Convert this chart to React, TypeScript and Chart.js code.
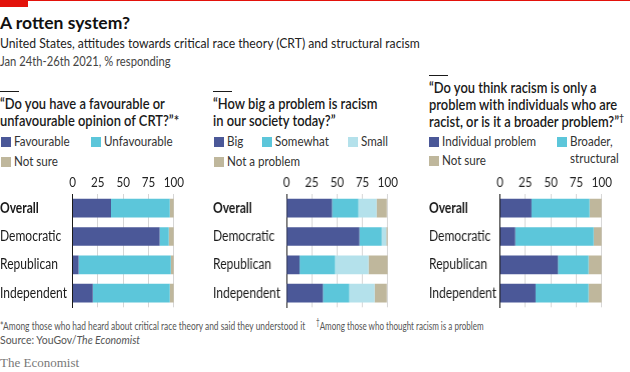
import React, { useEffect, useRef } from "react";
import { Chart, registerables } from "chart.js";
Chart.register(...registerables);

const FONT = "Lato, 'Noto Sans', sans-serif";

const groups = ["Overall", "Democratic", "Republican", "Independent"];
const xTicks = [0, 25, 50, 75, 100];

const crtFavourable = [38, 86, 6, 20];
const crtUnfavourable = [58, 9, 91, 76];
const crtNotSure = [4, 5, 3, 4];

const bigProblem = [45, 72, 13, 36];
const somewhatProblem = [26, 22, 35, 26];
const smallProblem = [18, 4.5, 33, 25];
const notAProblem = [10, 1.5, 19, 12];

const individualProblem = [31, 15, 57, 35];
const broaderStructural = [57, 77, 30, 52];
const structNotSure = [12, 8, 13, 13];

const DARK = "#4b5898";
const CYAN = "#5cc6da";
const LIGHT = "#b4e1eb";
const TAN = "#bfb79c";

type DS = { label: string; data: number[]; color: string };

const CANVAS_TOP = 170;
const AXIS_H = 24;
const PLOT_H = 120;
const PAD_R = 14;
const SQUEEZE = 0.83;

function BarPanel(props: { left: number; x0: number; x100: number; series: DS[] }) {
  const ref = useRef<HTMLCanvasElement | null>(null);
  const { left, x0, x100, series } = props;
  const width = x100 - left + PAD_R;
  const height = AXIS_H + PLOT_H + 2;
  useEffect(() => {
    const canvas = ref.current;
    if (!canvas) return;
    const ctx = canvas.getContext("2d") as any;
    const orig = ctx.fillText;
    ctx.fillText = function (text: string, x: number, y: number, maxWidth?: number) {
      const w = this.measureText(text).width * SQUEEZE;
      return orig.call(this, text, x, y, maxWidth !== undefined ? Math.min(maxWidth, w) : w);
    };
    const chart = new Chart(canvas, {
      type: "bar",
      data: {
        labels: groups,
        datasets: series.map((s) => ({
          label: s.label,
          data: s.data,
          backgroundColor: s.color,
          borderWidth: 0,
          barPercentage: 0.66,
          categoryPercentage: 1,
        })),
      },
      options: {
        indexAxis: "y",
        animation: false,
        responsive: false,
        devicePixelRatio: 1,
        layout: { padding: { left: 0, right: PAD_R, top: 0, bottom: 2 } },
        plugins: { legend: { display: false }, tooltip: { enabled: false } },
        scales: {
          x: {
            position: "top",
            stacked: true,
            min: 0,
            max: 100,
            afterBuildTicks: (s: any) => {
              s.ticks = xTicks.map((v) => ({ value: v }));
            },
            ticks: {
              color: "#222",
              font: { family: FONT, size: 14 },
              padding: 3,
              maxRotation: 0,
              autoSkip: false,
            },
            grid: { color: "#d6d6d6", drawTicks: false, lineWidth: 1 },
            border: { display: false },
            afterFit: (s: any) => {
              s.height = AXIS_H;
            },
          },
          y: {
            stacked: true,
            ticks: {
              crossAlign: "far",
              color: "#1a1a1a",
              padding: 0,
              font: (c: any) => ({
                family: FONT,
                size: 14.5,
                weight: c.index === 0 ? "bold" : "normal",
              }),
            },
            grid: { display: false, drawTicks: false },
            border: { display: true, color: "#1a1a1a", width: 1 },
            afterFit: (s: any) => {
              s.width = x0 - left;
            },
          },
        },
      } as any,
    });
    return () => {
      chart.destroy();
      ctx.fillText = orig;
    };
  }, []);
  return (
    <canvas
      ref={ref}
      width={width}
      height={height}
      style={{ position: "absolute", left, top: CANVAS_TOP, width, height }}
    />
  );
}

const sq = (s: number): React.CSSProperties => ({
  transform: `scaleX(${s})`,
  transformOrigin: "left top",
  whiteSpace: "nowrap",
});

function Legend(props: { items: { label: string; color: string; x: number; y: number; text?: React.ReactNode }[] }) {
  return (
    <>
      {props.items.map((it, i) => (
        <div key={i} style={{ position: "absolute", left: it.x, top: it.y - 9, height: 18 }}>
          <div style={{ position: "absolute", left: 0, top: 4, width: 10, height: 10, background: it.color }} />
          <div style={{ position: "absolute", left: 12.5, top: 0, fontFamily: FONT, fontSize: 13.5, lineHeight: "17px", color: "#333", ...sq(0.86) }}>
            {it.text ?? it.label}
          </div>
        </div>
      ))}
    </>
  );
}

function Question(props: { x: number; ruleY: number; top: number; lines: React.ReactNode[] }) {
  return (
    <>
      <div style={{ position: "absolute", left: props.x, top: props.ruleY, width: 19, height: 1, background: "#1a1a1a" }} />
      <div style={{ position: "absolute", left: props.x, top: props.top, fontFamily: FONT, fontSize: 15, lineHeight: "17px", color: "#1a1a1a", fontWeight: 600, ...sq(0.86) }}>
        {props.lines.map((l, i) => (
          <div key={i}>{l}</div>
        ))}
      </div>
    </>
  );
}

export default function App() {
  return (
    <div style={{ position: "fixed", left: 0, top: 0, width: 630, height: 372, background: "#fff", overflow: "hidden" }}>
      <div style={{ position: "absolute", left: 0, top: 0, width: 630, height: 1, background: "#e3120b" }} />
      <div style={{ position: "absolute", left: 0, top: 0, width: 28, height: 7, background: "#e3120b" }} />
      <div style={{ position: "absolute", left: 0, top: 12, fontFamily: FONT, fontWeight: "bold", fontSize: 17.5, lineHeight: "22px", color: "#111", whiteSpace: "nowrap" }}>
        A rotten system?
      </div>
      <div style={{ position: "absolute", left: 0, top: 34, fontFamily: FONT, fontSize: 14, lineHeight: "18px", color: "#222", ...sq(0.87) }}>
        United States, attitudes towards critical race theory (CRT) and structural racism
      </div>
      <div style={{ position: "absolute", left: 0, top: 52, fontFamily: FONT, fontSize: 13.5, lineHeight: "18px", color: "#444", ...sq(0.83) }}>
        Jan 24th-26th 2021, % responding
      </div>

      <Question x={0} ruleY={91} top={94.5} lines={["“Do you have a favourable or", "unfavourable opinion of CRT?”*"]} />
      <Question x={213} ruleY={91} top={94.5} lines={["“How big a problem is racism", "in our society today?”"]} />
      <Question
        x={429}
        ruleY={75}
        top={78.5}
        lines={[
          "“Do you think racism is only a",
          "problem with individuals who are",
          <span>
            racist, or is it a broader problem?”<sup style={{ fontSize: 10, lineHeight: 0 }}>†</sup>
          </span>,
        ]}
      />

      <Legend
        items={[
          { label: "Favourable", color: DARK, x: 1, y: 142 },
          { label: "Unfavourable", color: CYAN, x: 91, y: 142 },
          { label: "Not sure", color: TAN, x: 1, y: 162 },
          { label: "Big", color: DARK, x: 214, y: 142 },
          { label: "Somewhat", color: CYAN, x: 262, y: 142 },
          { label: "Small", color: LIGHT, x: 348, y: 142 },
          { label: "Not a problem", color: TAN, x: 214, y: 162 },
          { label: "Individual problem", color: DARK, x: 429, y: 142 },
          { label: "Broader, structural", color: CYAN, x: 557, y: 142, text: <span>Broader,<br />structural</span> },
          { label: "Not sure", color: TAN, x: 429, y: 161 },
        ]}
      />

      <BarPanel
        left={0}
        x0={72.5}
        x100={175}
        series={[
          { label: "Favourable", data: crtFavourable, color: DARK },
          { label: "Unfavourable", data: crtUnfavourable, color: CYAN },
          { label: "Not sure", data: crtNotSure, color: TAN },
        ]}
      />
      <BarPanel
        left={213}
        x0={286}
        x100={388.5}
        series={[
          { label: "Big", data: bigProblem, color: DARK },
          { label: "Somewhat", data: somewhatProblem, color: CYAN },
          { label: "Small", data: smallProblem, color: LIGHT },
          { label: "Not a problem", data: notAProblem, color: TAN },
        ]}
      />
      <BarPanel
        left={429}
        x0={499.5}
        x100={602.5}
        series={[
          { label: "Individual problem", data: individualProblem, color: DARK },
          { label: "Broader, structural", data: broaderStructural, color: CYAN },
          { label: "Not sure", data: structNotSure, color: TAN },
        ]}
      />

      <div style={{ position: "absolute", left: 0, top: 318, fontFamily: FONT, fontSize: 11.5, lineHeight: "15px", color: "#555", ...sq(0.73) }}>
        *Among those who had heard about critical race theory and said they understood it
      </div>
      <div style={{ position: "absolute", left: 316, top: 318, fontFamily: FONT, fontSize: 11.5, lineHeight: "15px", color: "#555", ...sq(0.7) }}>
        <sup style={{ fontSize: 9, lineHeight: 0 }}>†</sup>Among those who thought racism is a problem
      </div>
      <div style={{ position: "absolute", left: 0, top: 332, fontFamily: FONT, fontSize: 11.5, lineHeight: "15px", color: "#555", ...sq(0.91) }}>
        Source: YouGov/<i>The Economist</i>
      </div>
      <div style={{ position: "absolute", left: 0, top: 355, fontFamily: "'Liberation Serif', 'DejaVu Serif', serif", fontSize: 13, lineHeight: "16px", color: "#777", whiteSpace: "nowrap" }}>
        The Economist
      </div>
    </div>
  );
}
